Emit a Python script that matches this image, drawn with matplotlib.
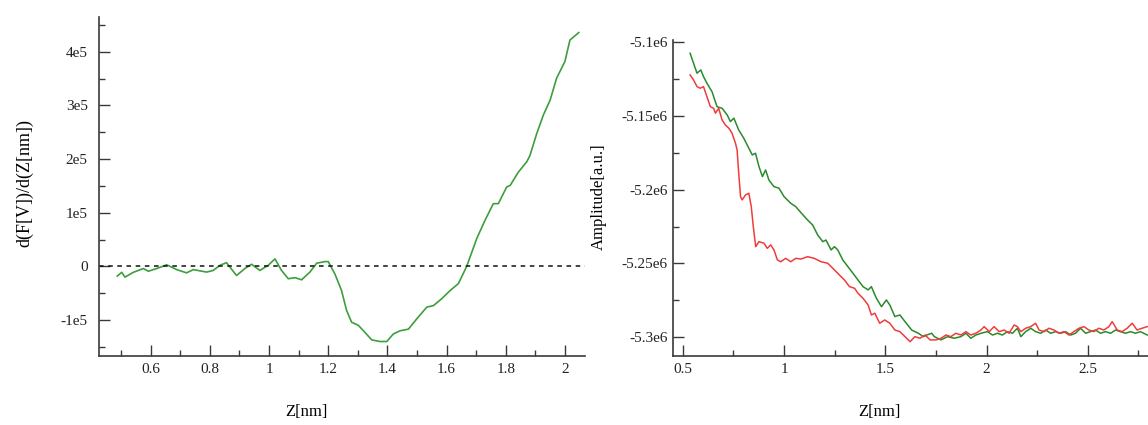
import matplotlib
matplotlib.use("Agg")
import matplotlib.pyplot as plt
from matplotlib.ticker import FixedLocator, FixedFormatter

# ---- left panel: derivative curve ----
deriv_z = [0.487, 0.502, 0.513, 0.541, 0.575, 0.592, 0.620, 0.654, 0.688, 0.721,
           0.744, 0.789, 0.811, 0.834, 0.856, 0.890, 0.918, 0.941, 0.969, 0.997,
           1.020, 1.042, 1.065, 1.088, 1.110, 1.138, 1.161, 1.189, 1.200, 1.2225,
           1.245, 1.262, 1.279, 1.302, 1.324, 1.347, 1.375, 1.398, 1.420, 1.443,
           1.471, 1.499, 1.533, 1.556, 1.584, 1.612, 1.640, 1.668, 1.702, 1.730,
           1.758, 1.775, 1.803, 1.815, 1.843, 1.871, 1.882, 1.905, 1.927, 1.950,
           1.972, 2.000, 2.017, 2.047]
deriv_val = [-1.8e4, -1.1e4, -2.0e4, -1.1e4, -0.4e4, -0.9e4, -0.4e4, 0.3e4, -0.6e4, -1.2e4,
             -0.6e4, -1.06e4, -0.75e4, 0.2e4, 0.7e4, -1.7e4, -0.4e4, 0.4e4, -0.75e4, 0.2e4,
             1.4e4, -0.75e4, -2.3e4, -2.1e4, -2.5e4, -1.06e4, 0.6e4, 0.9e4, 0.9e4, -1.4e4,
             -4.5e4, -8.2e4, -10.4e4, -11.0e4, -12.3e4, -13.7e4, -14.0e4, -14.0e4, -12.6e4, -12.0e4,
             -11.7e4, -9.8e4, -7.6e4, -7.3e4, -6.0e4, -4.5e4, -3.2e4, 0.0, 5.2e4, 8.6e4,
             11.7e4, 11.7e4, 14.8e4, 15.1e4, 17.6e4, 19.5e4, 20.7e4, 24.8e4, 28.2e4, 31.0e4,
             35.1e4, 38.2e4, 42.2e4, 43.6e4]

left_xticks = [0.6, 0.8, 1.0, 1.2, 1.4, 1.6, 1.8, 2.0]
left_xlabels = ["0.6", "0.8", "1", "1.2", "1.4", "1.6", "1.8", "2"]
left_yticks = [-1e5, 0, 1e5, 2e5, 3e5, 4e5]
left_ylabels = ["-1e5", "0", "1e5", "2e5", "3e5", "4e5"]

# ---- right panel: amplitude curves (green / red) ----
green_z = [0.536, 0.570, 0.589, 0.602, 0.619, 0.644, 0.669, 0.694, 0.719, 0.735,
           0.752, 0.776, 0.801, 0.826, 0.843, 0.859, 0.876, 0.893, 0.909, 0.925,
           0.950, 0.975, 1.000, 1.033, 1.058, 1.083, 1.116, 1.141, 1.166, 1.191,
           1.207, 1.232, 1.249, 1.265, 1.290, 1.315, 1.340, 1.365, 1.390, 1.415,
           1.431, 1.456, 1.481, 1.505, 1.522, 1.547, 1.572, 1.597, 1.630, 1.663,
           1.688, 1.704, 1.729, 1.742, 1.775, 1.807, 1.840, 1.873, 1.898, 1.922,
           1.947, 1.972, 2.004, 2.029, 2.054, 2.078, 2.103, 2.128, 2.152, 2.169,
           2.193, 2.218, 2.242, 2.267, 2.292, 2.316, 2.341, 2.366, 2.390, 2.415,
           2.439, 2.464, 2.489, 2.513, 2.538, 2.563, 2.587, 2.612, 2.637, 2.661,
           2.686, 2.711, 2.735, 2.760, 2.793]
green_amp = [-5.1075, -5.1210, -5.1188, -5.1233, -5.1278, -5.1335, -5.1437, -5.1448, -5.1493, -5.1538,
             -5.1515, -5.1595, -5.1651, -5.1719, -5.1764, -5.1753, -5.1843, -5.1911, -5.1866, -5.1934,
             -5.1979, -5.1990, -5.2047, -5.2092, -5.2115, -5.2155, -5.2205, -5.2239, -5.2307, -5.2352,
             -5.2341, -5.2408, -5.2386, -5.2408, -5.2476, -5.2521, -5.2566, -5.2612, -5.2657, -5.2679,
             -5.2657, -5.2736, -5.2793, -5.2747, -5.2781, -5.2860, -5.2849, -5.2894, -5.2951, -5.2973,
             -5.2996, -5.2985, -5.2973, -5.2996, -5.3018, -5.2996, -5.3007, -5.2996, -5.2973, -5.3007,
             -5.2985, -5.2973, -5.2962, -5.2985, -5.2973, -5.2985, -5.2962, -5.2973, -5.2939, -5.2996,
             -5.2962, -5.2939, -5.2962, -5.2973, -5.2951, -5.2973, -5.2962, -5.2973, -5.2962, -5.2985,
             -5.2973, -5.2939, -5.2973, -5.2962, -5.2951, -5.2973, -5.2962, -5.2973, -5.2951, -5.2962,
             -5.2973, -5.2962, -5.2973, -5.2962, -5.2985]

red_z = [0.536, 0.553, 0.570, 0.586, 0.602, 0.619, 0.636, 0.652, 0.661, 0.677,
         0.694, 0.710, 0.727, 0.743, 0.760, 0.768, 0.776, 0.785, 0.793, 0.810,
         0.826, 0.838, 0.848, 0.860, 0.876, 0.901, 0.917, 0.934, 0.950, 0.967,
         0.984, 1.008, 1.033, 1.058, 1.083, 1.116, 1.149, 1.182, 1.215, 1.249,
         1.273, 1.298, 1.323, 1.348, 1.365, 1.390, 1.415, 1.431, 1.448, 1.472,
         1.497, 1.522, 1.547, 1.572, 1.597, 1.622, 1.646, 1.671, 1.696, 1.721,
         1.750, 1.775, 1.799, 1.824, 1.848, 1.873, 1.898, 1.922, 1.947, 1.972,
         1.988, 2.013, 2.037, 2.062, 2.087, 2.111, 2.136, 2.152, 2.169, 2.193,
         2.218, 2.242, 2.259, 2.284, 2.308, 2.333, 2.357, 2.382, 2.407, 2.431,
         2.456, 2.481, 2.505, 2.530, 2.554, 2.579, 2.604, 2.620, 2.645, 2.669,
         2.694, 2.719, 2.743, 2.768, 2.793]
red_amp = [-5.1222, -5.1256, -5.1301, -5.1312, -5.1301, -5.1369, -5.1437, -5.1448, -5.1481, -5.1448,
           -5.1527, -5.1561, -5.1583, -5.1617, -5.1685, -5.1730, -5.1888, -5.2047, -5.2069, -5.2035,
           -5.2024, -5.2115, -5.2250, -5.2386, -5.2352, -5.2363, -5.2397, -5.2374, -5.2408, -5.2476,
           -5.2488, -5.2465, -5.2488, -5.2465, -5.2470, -5.2454, -5.2465, -5.2488, -5.2498, -5.2544,
           -5.2578, -5.2612, -5.2657, -5.2668, -5.2702, -5.2736, -5.2781, -5.2849, -5.2837, -5.2905,
           -5.2883, -5.2905, -5.2951, -5.2962, -5.2996, -5.3030, -5.2996, -5.3007, -5.2985, -5.3018,
           -5.3018, -5.3007, -5.2985, -5.2996, -5.2973, -5.2985, -5.2962, -5.2985, -5.2973, -5.2951,
           -5.2928, -5.2962, -5.2928, -5.2962, -5.2951, -5.2973, -5.2917, -5.2928, -5.2962, -5.2939,
           -5.2928, -5.2905, -5.2951, -5.2962, -5.2939, -5.2951, -5.2973, -5.2962, -5.2985, -5.2962,
           -5.2939, -5.2928, -5.2951, -5.2962, -5.2939, -5.2951, -5.2928, -5.2894, -5.2951, -5.2962,
           -5.2939, -5.2905, -5.2951, -5.2939, -5.2928]
amp_scale = 1e6

right_xticks = [0.5, 1.0, 1.5, 2.0, 2.5]
right_xlabels = ["0.5", "1", "1.5", "2", "2.5"]
right_yticks = [-5.3e6, -5.25e6, -5.2e6, -5.15e6, -5.1e6]
right_ylabels = ["-5.3e6", "-5.25e6", "-5.2e6", "-5.15e6", "-5.1e6"]

plt.rcParams['font.family'] = ['Liberation Serif', 'DejaVu Serif']
SPINE = "#3a3a3a"


def style_axes(ax):
    for side in ("top", "right"):
        ax.spines[side].set_visible(False)
    for side in ("left", "bottom"):
        ax.spines[side].set_color(SPINE)
        ax.spines[side].set_linewidth(1.2)
    ax.tick_params(which="both", direction="in", colors=SPINE, labelcolor="#222222",
                   labelsize=11, width=1.0)
    ax.tick_params(which="major", length=8)
    ax.tick_params(which="minor", length=4.5)
    ax.tick_params(axis="y", pad=8)
    ax.tick_params(axis="x", pad=5)


fig = plt.figure(figsize=(11.48, 4.25), dpi=100)

# left panel
ax1 = fig.add_axes([0.0862, 0.1624, 0.4234, 0.7976])
ax1.plot(deriv_z, deriv_val, color="#3d9e3d", lw=1.2)
ax1.axhline(0, color="#111111", lw=1.1, ls=(0, (3, 3)))
ax1.set_xlim(0.425, 2.068)
ax1.set_ylim(-1.67e5, 4.65e5)
ax1.xaxis.set_major_locator(FixedLocator(left_xticks))
ax1.xaxis.set_major_formatter(FixedFormatter(left_xlabels))
ax1.xaxis.set_minor_locator(FixedLocator([0.5, 0.7, 0.9, 1.1, 1.3, 1.5, 1.7, 1.9]))
ax1.yaxis.set_major_locator(FixedLocator(left_yticks))
ax1.yaxis.set_major_formatter(FixedFormatter(left_ylabels))
ax1.yaxis.set_minor_locator(FixedLocator([-1.5e5, -0.5e5, 0.5e5, 1.5e5, 2.5e5, 3.5e5, 4.5e5]))
style_axes(ax1)
ax1.set_xlabel("Z[nm]", fontsize=12, va="center")
ax1.xaxis.set_label_coords(0.426, -0.165)
ax1.set_ylabel("d(F[V])/d(Z[nm])", fontsize=13, va="center")
ax1.yaxis.set_label_coords(-0.152, 0.51)

# right panel
ax2 = fig.add_axes([0.5865, 0.1624, 0.4135, 0.7435])
ax2.plot(green_z, [v * amp_scale for v in green_amp], color="#2b8a2b", lw=1.1)
ax2.plot(red_z, [v * amp_scale for v in red_amp], color="#f03c3c", lw=1.1)
ax2.set_xlim(0.453, 2.797)
ax2.set_ylim(-5.3127e6, -5.0985e6)
ax2.xaxis.set_major_locator(FixedLocator(right_xticks))
ax2.xaxis.set_major_formatter(FixedFormatter(right_xlabels))
ax2.xaxis.set_minor_locator(FixedLocator([0.75, 1.25, 1.75, 2.25, 2.75]))
ax2.yaxis.set_major_locator(FixedLocator(right_yticks))
ax2.yaxis.set_major_formatter(FixedFormatter(right_ylabels))
ax2.yaxis.set_minor_locator(FixedLocator([-5.275e6, -5.225e6, -5.175e6, -5.125e6]))
style_axes(ax2)
ax2.tick_params(axis="y", pad=4)
ax2.set_xlabel("Z[nm]", fontsize=12, va="center")
ax2.xaxis.set_label_coords(0.435, -0.177)
ax2.set_ylabel("Amplitude[a.u.]", fontsize=12, va="center")
ax2.yaxis.set_label_coords(-0.1565, 0.503)

fig.savefig("out.png", dpi=100)
plt.close(fig)
